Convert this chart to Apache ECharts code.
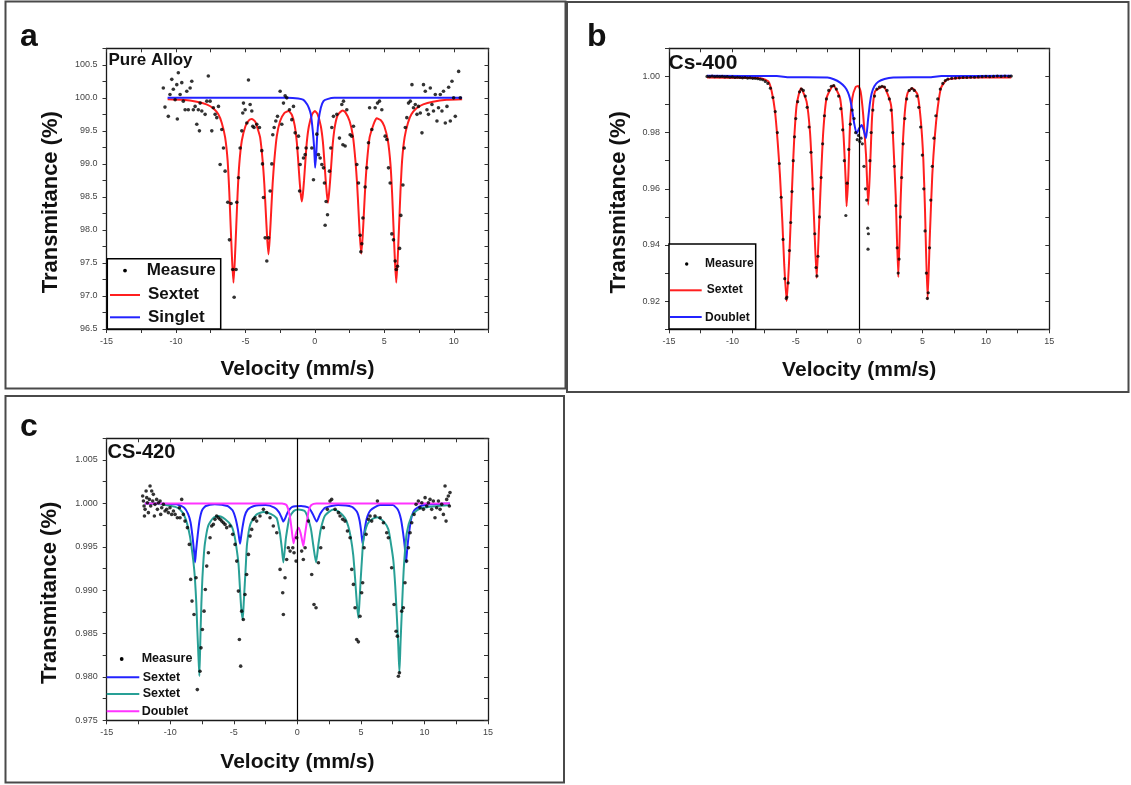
<!DOCTYPE html>
<html><head><meta charset="utf-8">
<script src="https://cdn.jsdelivr.net/npm/echarts@6/dist/echarts.min.js"></script>
<style>html,body{margin:0;padding:0;background:#fff}#c{width:1131px;height:785px}</style>
</head><body><div id="c"></div>
<script>
// ---------------- Panel a : Pure Alloy ----------------
const aMeasure = [[-10.91,100.15],[-10.79,99.86],[-10.55,99.72],[-10.43,100.05],[-10.30,100.28],[-10.19,100.13],[-10.06,99.97],[-9.94,100.20],[-9.90,99.68],[-9.83,100.38],[-9.70,100.05],[-9.58,100.23],[-9.47,99.95],[-9.34,99.82],[-9.22,100.10],[-9.11,99.82],[-8.98,100.15],[-8.86,100.25],[-8.75,99.82],[-8.62,99.87],[-8.50,99.60],[-8.39,99.82],[-8.31,99.50],[-8.26,99.92],[-8.14,99.80],[-7.90,99.75],[-7.78,99.95],[-7.67,100.33],[-7.54,99.95],[-7.42,99.50],[-7.31,99.85],[-7.18,99.75],[-7.06,99.70],[-6.94,99.87],[-6.82,98.99],[-6.70,99.52],[-6.58,99.24],[-6.46,98.89],[-6.27,98.42],[-6.15,97.85],[-6.03,98.40],[-5.91,97.40],[-5.81,96.98],[-5.67,97.40],[-5.62,98.42],[-5.50,98.79],[-5.38,99.24],[-5.26,99.50],[-5.19,99.77],[-5.14,99.92],[-5.02,99.82],[-4.90,99.62],[-4.78,100.27],[-4.66,99.90],[-4.54,99.80],[-4.47,99.57],[-4.38,99.55],[-4.18,99.60],[-3.99,99.55],[-3.82,99.20],[-3.77,99.00],[-3.70,98.49],[-3.58,97.88],[-3.46,97.53],[-3.34,97.88],[-3.22,98.59],[-3.10,99.00],[-3.03,99.44],[-2.93,99.55],[-2.81,99.65],[-2.69,99.72],[-2.50,100.10],[-2.38,99.60],[-2.26,99.92],[-2.14,100.03],[-2.02,100.00],[-1.83,99.82],[-1.66,99.67],[-1.54,99.87],[-1.42,99.47],[-1.25,99.24],[-1.18,99.42],[-1.10,98.59],[-1.06,98.99],[-0.82,99.09],[-0.70,99.14],[-0.63,99.24],[-0.22,99.24],[-0.10,98.76],[0.14,99.45],[0.26,99.14],[0.38,99.09],[0.50,98.99],[0.62,98.94],[0.69,98.71],[0.74,98.07],[0.81,98.43],[0.91,98.23],[1.05,98.89],[1.15,99.24],[1.22,99.55],[1.34,99.72],[1.58,99.75],[1.77,99.39],[1.94,99.90],[2.02,99.29],[2.06,99.95],[2.18,99.27],[2.30,99.82],[2.54,99.44],[2.66,99.42],[2.78,99.57],[3.02,98.99],[3.14,98.71],[3.26,97.92],[3.31,97.67],[3.38,97.79],[3.46,98.18],[3.62,98.65],[3.74,98.94],[3.86,99.32],[3.94,99.85],[4.10,99.52],[4.34,99.85],[4.51,99.92],[4.65,99.95],[4.82,99.82],[5.06,99.42],[5.18,99.37],[5.30,98.94],[5.42,98.71],[5.54,97.94],[5.66,97.85],[5.78,97.53],[5.86,97.40],[5.95,97.45],[6.10,97.72],[6.19,98.22],[6.34,98.68],[6.43,99.24],[6.51,99.55],[6.62,99.70],[6.74,99.92],[6.87,99.95],[6.99,100.20],[7.10,99.85],[7.23,99.90],[7.35,99.75],[7.46,99.87],[7.59,99.77],[7.71,99.47],[7.82,100.20],[7.95,100.10],[8.07,99.82],[8.18,99.75],[8.31,100.15],[8.43,99.90],[8.54,99.80],[8.67,100.05],[8.79,99.65],[8.90,99.85],[9.03,100.05],[9.15,99.80],[9.26,100.10],[9.39,99.62],[9.51,99.87],[9.63,100.16],[9.75,99.65],[9.87,100.25],[9.99,100.0],[10.11,99.72],[10.35,100.40],[10.47,100.0]];
const aSextet = [[-10.6,99.98],[-9.5,99.97],[-8.5,99.94],[-7.8,99.90],[-7.3,99.84],[-6.95,99.75],[-6.7,99.62],[-6.46,99.40],[-6.28,99.05],[-6.16,98.57],[-6.06,98.05],[-5.96,97.55],[-5.86,97.20],[-5.76,97.55],[-5.66,98.05],[-5.56,98.56],[-5.44,99.00],[-5.26,99.35],[-5.0,99.57],[-4.75,99.66],[-4.54,99.68],[-4.3,99.64],[-4.1,99.52],[-3.94,99.40],[-3.76,99.05],[-3.64,98.70],[-3.54,98.30],[-3.44,97.90],[-3.34,97.63],[-3.24,97.90],[-3.14,98.30],[-3.04,98.70],[-2.92,99.05],[-2.74,99.42],[-2.5,99.65],[-2.2,99.77],[-1.9,99.80],[-1.65,99.74],[-1.45,99.58],[-1.3,99.33],[-1.2,99.05],[-1.1,98.75],[-1.02,98.55],[-0.94,98.43],[-0.86,98.55],[-0.78,98.75],[-0.68,99.05],[-0.58,99.33],[-0.43,99.57],[-0.2,99.75],[0.0,99.80],[0.2,99.75],[0.43,99.57],[0.58,99.33],[0.68,99.05],[0.78,98.75],[0.86,98.55],[0.94,98.41],[1.02,98.55],[1.1,98.75],[1.2,99.05],[1.3,99.33],[1.45,99.58],[1.65,99.74],[2.0,99.81],[2.2,99.78],[2.5,99.65],[2.74,99.42],[2.92,99.05],[3.04,98.70],[3.14,98.30],[3.24,97.90],[3.34,97.64],[3.44,97.90],[3.54,98.30],[3.64,98.70],[3.76,99.05],[3.94,99.40],[4.1,99.52],[4.3,99.64],[4.45,99.69],[4.75,99.66],[5.0,99.57],[5.26,99.35],[5.44,99.00],[5.56,98.56],[5.66,98.05],[5.76,97.55],[5.86,97.20],[5.96,97.55],[6.06,98.05],[6.16,98.57],[6.28,99.05],[6.46,99.40],[6.7,99.62],[6.95,99.75],[7.3,99.84],[7.8,99.90],[8.5,99.94],[9.5,99.97],[10.6,99.98]];
const aSinglet = [[-10.6,100.0],[-2.0,100.0],[-1.2,99.99],[-0.82,99.97],[-0.55,99.90],[-0.42,99.84],[-0.29,99.75],[-0.15,99.50],[-0.05,99.24],[0.02,98.94],[0.10,99.15],[0.16,99.40],[0.26,99.65],[0.43,99.85],[0.62,99.95],[0.9,99.98],[1.4,100.0],[10.6,100.0]];

// ---------------- Panel b : Cs-400 ----------------
const bMeasure = [[-12.0,1.0000],[-11.8,0.9999],[-11.6,1.0001],[-11.4,0.9999],[-11.2,1.0000],[-11.0,0.9999],[-10.8,1.0000],[-10.6,0.9998],[-10.4,0.9999],[-10.2,0.9997],[-10.0,0.9998],[-9.8,0.9996],[-9.6,0.9997],[-9.4,0.9996],[-9.2,0.9995],[-9.0,0.9996],[-8.8,0.9994],[-8.6,0.9995],[-8.4,0.9993],[-8.2,0.9993],[-8.0,0.9992],[-7.8,0.9990],[-7.6,0.9988],[-7.4,0.9982],[-7.2,0.9975],[-7.0,0.9958],[-6.8,0.9925],[-6.62,0.9875],[-6.45,0.9800],[-6.3,0.9690],[-6.15,0.9570],[-6.0,0.9420],[-5.87,0.9280],[-5.75,0.9210],[-5.7,0.9215],[-5.6,0.9265],[-5.5,0.9380],[-5.4,0.9480],[-5.3,0.9590],[-5.2,0.9700],[-5.1,0.9785],[-5.0,0.9850],[-4.85,0.9910],[-4.7,0.9945],[-4.55,0.9955],[-4.4,0.9950],[-4.25,0.9930],[-4.1,0.9890],[-3.95,0.9820],[-3.8,0.9730],[-3.65,0.9600],[-3.5,0.9440],[-3.4,0.9320],[-3.33,0.9290],[-3.25,0.9360],[-3.13,0.9500],[-3.0,0.9640],[-2.88,0.9760],[-2.74,0.9860],[-2.58,0.9920],[-2.4,0.9950],[-2.2,0.9965],[-2.0,0.9967],[-1.8,0.9955],[-1.62,0.9930],[-1.45,0.9885],[-1.3,0.9810],[-1.17,0.9700],[-1.05,0.9505],[-0.95,0.9620],[-0.82,0.9740],[-0.7,0.9830],[-0.55,0.9880],[-0.4,0.9850],[-0.28,0.9800],[-0.15,0.9775],[-0.05,0.9790],[0.05,0.9768],[0.15,0.9780],[0.25,0.9760],[0.38,0.9680],[0.5,0.9600],[0.6,0.9560],[0.68,0.9460],[0.73,0.9440],[0.7,0.9385],[0.85,0.9700],[0.95,0.9800],[1.08,0.9880],[1.22,0.9930],[1.4,0.9955],[1.6,0.9962],[1.8,0.9965],[2.0,0.9962],[2.2,0.9950],[2.38,0.9920],[2.52,0.9880],[2.65,0.9800],[2.78,0.9680],[2.9,0.9540],[3.0,0.9390],[3.08,0.9300],[3.15,0.9350],[3.25,0.9500],[3.35,0.9640],[3.47,0.9760],[3.6,0.9850],[3.75,0.9920],[3.95,0.9950],[4.15,0.9957],[4.35,0.9950],[4.55,0.9930],[4.7,0.9890],[4.85,0.9820],[4.98,0.9720],[5.1,0.9600],[5.2,0.9450],[5.3,0.9300],[5.38,0.9210],[5.45,0.9230],[5.55,0.9390],[5.65,0.9560],[5.77,0.9680],[5.9,0.9780],[6.05,0.9860],[6.2,0.9920],[6.4,0.9955],[6.6,0.9975],[6.8,0.9985],[7.0,0.9990],[7.3,0.9993],[7.6,0.9994],[7.9,0.9995],[8.2,0.9996],[8.5,0.9996],[8.8,0.9997],[9.1,0.9997],[9.4,0.9998],[9.7,0.9999],[10.0,1.0000],[10.3,0.9999],[10.6,1.0000],[10.9,1.0001],[11.2,1.0000],[11.5,1.0001],[11.8,1.0000],[12.0,1.0001]];
const bSextet = [[-12,0.9996],[-9,0.9995],[-7.69,0.9993],[-7.16,0.9982],[-6.9,0.9947],[-6.64,0.9876],[-6.43,0.9769],[-6.25,0.9650],[-6.06,0.9484],[-5.91,0.9330],[-5.72,0.9200],[-5.54,0.9330],[-5.38,0.9508],[-5.25,0.9650],[-5.12,0.9780],[-4.93,0.9899],[-4.59,0.9958],[-4.15,0.9911],[-3.88,0.9804],[-3.70,0.9650],[-3.54,0.9472],[-3.35,0.9283],[-3.17,0.9460],[-3.01,0.9638],[-2.83,0.9804],[-2.57,0.9923],[-2.04,0.9968],[-1.51,0.9923],[-1.25,0.9804],[-1.06,0.9627],[-0.99,0.9538],[-0.85,0.9650],[-0.72,0.9828],[-0.54,0.9923],[-0.28,0.9962],[-0.07,0.9966],[0.12,0.9945],[0.32,0.9863],[0.54,0.9721],[0.72,0.9543],[0.90,0.9721],[1.03,0.9863],[1.25,0.9947],[1.90,0.9964],[2.51,0.9899],[2.69,0.9769],[2.88,0.9579],[3.09,0.9285],[3.27,0.9556],[3.43,0.9745],[3.61,0.9876],[3.82,0.9941],[4.19,0.9958],[4.61,0.9935],[4.87,0.9840],[5.06,0.9707],[5.19,0.9532],[5.40,0.9206],[5.58,0.9437],[5.77,0.9650],[5.98,0.9792],[6.19,0.9886],[6.45,0.9958],[6.90,0.9988],[7.56,0.9993],[8.87,0.9996],[12,0.9996]];
const bDoublet = [[-12,1.0002],[-6.5,1.0001],[-5.5,0.9997],[-2.5,0.9996],[-2.0,0.9990],[-1.5,0.9978],[-1.12,0.9962],[-0.9,0.9945],[-0.73,0.9922],[-0.55,0.9880],[-0.4,0.9835],[-0.2,0.9797],[0.0,0.9815],[0.2,0.9827],[0.35,0.9810],[0.54,0.9780],[0.7,0.9845],[0.85,0.9905],[0.99,0.9940],[1.2,0.9965],[1.51,0.9981],[2.0,0.9991],[2.69,0.9996],[5.5,0.9997],[6.5,1.0001],[12,1.0002]];

// ---------------- Panel c : CS-420 ----------------
const cMeasure = [[-12.17,1.00085],[-12.11,1.00027],[-12.06,0.99970],[-11.98,0.99931],[-12.03,0.99854],[-11.90,1.00143],[-11.85,1.00066],[-11.80,1.00008],[-11.72,0.99893],[-11.64,1.00046],[-11.59,1.00200],[-11.54,0.99970],[-11.46,1.00143],[-11.38,1.00027],[-11.33,1.00104],[-11.25,0.99854],[-11.20,0.99989],[-11.07,1.00046],[-11.01,0.99931],[-10.93,1.00008],[-10.80,1.00027],[-10.75,0.99873],[-10.67,0.99950],[-10.54,0.99989],[-10.41,0.99912],[-10.28,0.99931],[-10.15,0.99893],[-10.02,0.99950],[-9.89,0.99873],[-9.75,0.99912],[-9.62,0.99873],[-9.44,0.99835],[-9.28,0.99950],[-9.23,0.99835],[-9.10,1.00046],[-8.97,0.99873],[-8.84,0.99796],[-8.65,0.99720],[-8.50,0.99527],[-8.39,0.99124],[-8.29,0.98874],[-8.13,0.98720],[-7.97,0.99143],[-7.87,0.97854],[-7.66,0.98066],[-7.58,0.98335],[-7.47,0.98547],[-7.34,0.98758],[-7.24,0.99008],[-7.13,0.99277],[-7.00,0.99431],[-6.87,0.99604],[-6.74,0.99739],[-6.61,0.99758],[-6.48,0.99816],[-6.35,0.99854],[-6.21,0.99835],[-6.08,0.99816],[-5.95,0.99796],[-5.82,0.99777],[-5.69,0.99758],[-5.56,0.99720],[-5.30,0.99739],[-5.09,0.99643],[-4.90,0.99527],[-4.77,0.99335],[-4.64,0.98989],[-4.56,0.98431],[-4.46,0.98124],[-4.38,0.98758],[-4.25,0.98662],[-4.12,0.98950],[-3.99,0.99181],[-3.85,0.99412],[-3.72,0.99623],[-3.59,0.99700],[-3.46,0.99816],[-3.33,0.99835],[-3.20,0.99796],[-2.94,0.99854],[-2.67,0.99931],[-2.41,0.99893],[-2.15,0.99835],[-1.89,0.99739],[-1.62,0.99662],[-1.36,0.99239],[-1.15,0.98970],[-1.10,0.98720],[-0.97,0.99143],[-0.84,0.99354],[-0.71,0.99489],[-0.57,0.99450],[-0.36,0.99489],[-0.26,0.99431],[-0.10,0.99335],[-0.05,0.99604],[0.34,0.99450],[0.47,0.99354],[0.61,0.99489],[0.87,0.99796],[1.13,0.99181],[1.31,0.98835],[1.47,0.98797],[1.66,0.99316],[1.84,0.99489],[2.05,0.99720],[2.36,0.99931],[2.57,1.00027],[2.70,1.00046],[2.97,0.99931],[3.23,0.99893],[3.36,0.99854],[3.57,0.99816],[3.75,0.99796],[3.94,0.99681],[4.15,0.99604],[4.28,0.99239],[4.41,0.99066],[4.54,0.98797],[4.67,0.98431],[4.80,0.98404],[4.93,0.98700],[5.06,0.98970],[5.14,0.99085],[5.25,0.99489],[5.41,0.99643],[5.59,0.99816],[5.72,0.99854],[5.85,0.99796],[6.11,0.99854],[6.30,1.00027],[6.51,0.99835],[6.77,0.99777],[7.03,0.99662],[7.16,0.99604],[7.42,0.99258],[7.61,0.98835],[7.77,0.98527],[7.87,0.98470],[7.95,0.98008],[8.03,0.98047],[8.21,0.98758],[8.34,0.98797],[8.47,0.99085],[8.60,0.99335],[8.74,0.99489],[8.87,0.99662],[9.00,0.99777],[9.18,0.99873],[9.34,0.99989],[9.52,1.00027],[9.65,0.99950],[9.79,1.00008],[9.92,0.99931],[10.05,1.00066],[10.18,0.99970],[10.31,1.00008],[10.44,1.00046],[10.57,0.99931],[10.70,1.00027],[10.83,0.99835],[10.96,0.99950],[11.10,1.00027],[11.23,0.99931],[11.36,0.99989],[11.49,0.99873],[11.62,1.00200],[11.70,0.99796],[11.75,1.00046],[11.88,1.00085],[11.96,0.99970],[12.01,1.00124]];
const cSextetBlue = [[-12,1.0],[-9.5,0.9999],[-8.9,0.9995],[-8.6,0.9988],[-8.4,0.9978],[-8.25,0.9962],[-8.13,0.9945],[-8.05,0.9932],[-7.97,0.9945],[-7.85,0.9962],[-7.7,0.9980],[-7.5,0.9992],[-7.2,0.9997],[-6.5,0.9999],[-5.5,0.9997],[-5.1,0.9992],[-4.85,0.9982],[-4.68,0.9970],[-4.58,0.9960],[-4.51,0.99535],[-4.44,0.9960],[-4.32,0.9972],[-4.15,0.9985],[-3.9,0.9993],[-3.4,0.9997],[-2.5,0.9998],[-1.8,0.9995],[-1.45,0.9990],[-1.25,0.9984],[-1.1,0.9979],[-0.95,0.9983],[-0.75,0.9990],[-0.4,0.9996],[0.3,0.9997],[0.9,0.9995],[1.2,0.9988],[1.52,0.9979],[1.8,0.9988],[2.2,0.9995],[3.2,0.9998],[4.3,0.9996],[4.7,0.9990],[4.9,0.9980],[5.02,0.9968],[5.14,0.9953],[5.26,0.9966],[5.45,0.9982],[5.75,0.9992],[6.5,0.9998],[7.5,0.9998],[7.9,0.9993],[8.15,0.9982],[8.32,0.9966],[8.45,0.9950],[8.55,0.9932],[8.65,0.9948],[8.78,0.9965],[8.95,0.9982],[9.2,0.9992],[9.7,0.9997],[10.5,0.9999],[12,1.0]];
const cSextetTeal = [[-11.85,1.0],[-10.5,0.99985],[-9.6,0.9996],[-9.23,0.9993],[-8.9,0.9986],[-8.66,0.9976],[-8.45,0.9962],[-8.32,0.9949],[-8.18,0.9933],[-8.06,0.9914],[-7.95,0.9885],[-7.88,0.9858],[-7.8,0.9830],[-7.71,0.9801],[-7.62,0.9850],[-7.55,0.9885],[-7.47,0.9914],[-7.38,0.9936],[-7.28,0.9953],[-7.02,0.9974],[-6.63,0.9983],[-6.21,0.99855],[-5.7,0.9982],[-5.18,0.9974],[-4.95,0.9963],[-4.79,0.9949],[-4.63,0.9930],[-4.53,0.9906],[-4.42,0.9880],[-4.30,0.9866],[-4.22,0.9885],[-4.14,0.9906],[-4.05,0.9930],[-3.96,0.9953],[-3.70,0.9976],[-3.23,0.9987],[-2.67,0.9990],[-2.1,0.9988],[-1.63,0.9983],[-1.45,0.9972],[-1.36,0.9965],[-1.22,0.9948],[-1.10,0.9932],[-0.98,0.9948],[-0.89,0.9961],[-0.63,0.9983],[-0.3,0.9991],[0.08,0.9993],[0.6,0.9991],[1.05,0.9972],[1.25,0.9952],[1.47,0.9932],[1.65,0.9952],[1.84,0.9970],[2.18,0.9986],[2.83,0.9993],[3.3,0.9990],[3.75,0.9983],[4.0,0.9974],[4.20,0.9961],[4.4,0.9940],[4.54,0.9914],[4.68,0.9885],[4.80,0.9868],[4.90,0.9890],[4.99,0.9914],[5.09,0.9937],[5.19,0.9957],[5.51,0.9976],[5.9,0.9982],[6.29,0.9984],[6.8,0.9979],[7.16,0.9970],[7.4,0.9950],[7.56,0.9933],[7.7,0.9905],[7.82,0.9872],[7.93,0.9840],[8.03,0.9805],[8.12,0.9840],[8.21,0.9872],[8.30,0.9903],[8.39,0.9929],[8.60,0.9965],[8.99,0.99855],[9.4,0.9992],[9.91,0.9995],[12.0,0.9998]];
const cDoublet = [[-12,1.0],[-1.2,1.0],[-0.85,0.9998],[-0.6,0.9986],[-0.45,0.9970],[-0.3,0.9954],[-0.2,0.9960],[-0.05,0.9968],[0.1,0.9972],[0.25,0.9966],[0.38,0.9957],[0.47,0.9951],[0.58,0.9962],[0.74,0.9978],[0.9,0.9992],[1.1,0.9998],[1.5,1.0],[12,1.0]];

// ---------------- axis ranges & tick labels ----------------
const xRange = [[-15, 12.5], [-15, 15], [-15, 15]];
const xTickStep = 2.5, xLabelStep = 5;
const yRange = [[96.5, 100.75], [0.91, 1.01], [0.975, 1.0075]];
const yTickStep = [0.25, 0.01, 0.0025];
const yLabelStep = [0.5, 0.02, 0.005];
const yLabelDecimals = [1, 2, 3];
const panelLetters = ['a', 'b', 'c'];
const sampleNames = ['Pure Alloy', 'Cs-400', 'CS-420'];
const xTitle = 'Velocity (mm/s)';
const yTitle = 'Transmitance (%)';

const RED = '#ff1f1f', BLUE = '#2323ff', TEAL = '#28a096', MAG = '#ff33ff';
const FONT = '"Liberation Sans", Arial, sans-serif';

const grids = [
  {left: 106.5, top: 48.3, width: 382, height: 280.7},
  {left: 669, top: 48.3, width: 380.3, height: 281},
  {left: 106.7, top: 438.3, width: 381.3, height: 282}
];
const yNameGap = [45, 39, 45.5];

function isMult(v, step) { const r = v / step; return Math.abs(r - Math.round(r)) < 1e-6; }

const xAxes = [], yAxes = [];
for (let i = 0; i < 3; i++) {
  const axLine = {show: true, onZero: false, lineStyle: {color: '#1a1a1a', width: 1.3}};
  const base = {type: 'value', gridIndex: i, min: xRange[i][0], max: xRange[i][1], interval: xTickStep,
    splitLine: {show: false}, axisLine: axLine};
  xAxes.push(Object.assign({}, base, {
    position: 'bottom',
    axisTick: {show: true, inside: false, length: 4, lineStyle: {color: '#333', width: 1}},
    axisLabel: {fontSize: 9, color: '#444', fontFamily: FONT, margin: 8,
      formatter: v => isMult(v, xLabelStep) ? String(Math.round(v)) : ''},
    name: xTitle, nameLocation: 'middle', nameGap: i === 2 ? 31 : 30, nameMoveOverlap: false,
    nameTextStyle: {fontSize: 21, fontWeight: 'bold', fontFamily: FONT, color: '#111'}
  }));
  xAxes.push(Object.assign({}, base, {
    position: 'top',
    axisTick: {show: true, inside: true, length: 4, lineStyle: {color: '#333', width: 1}},
    axisLabel: {show: false}
  }));
  const ybase = {type: 'value', gridIndex: i, min: yRange[i][0], max: yRange[i][1], interval: yTickStep[i],
    splitLine: {show: false}, axisLine: axLine, scale: true};
  yAxes.push(Object.assign({}, ybase, {
    position: 'left',
    axisTick: {show: true, inside: false, length: 4, lineStyle: {color: '#333', width: 1}},
    axisLabel: {fontSize: 9, color: '#444', fontFamily: FONT, margin: 9,
      formatter: v => isMult(v, yLabelStep[i]) ? v.toFixed(yLabelDecimals[i]) : ''},
    name: yTitle, nameLocation: 'middle', nameGap: yNameGap[i], nameMoveOverlap: false,
    nameTextStyle: {fontSize: 22, fontWeight: 'bold', fontFamily: FONT, color: '#111', padding: [0, 27, 0, 0]}
  }));
  yAxes.push(Object.assign({}, ybase, {
    position: 'right',
    axisTick: {show: true, inside: true, length: 4, lineStyle: {color: '#333', width: 1}},
    axisLabel: {show: false}
  }));
}

function scatter(name, data, i, size) {
  return {name, type: 'scatter', data, xAxisIndex: 2 * i, yAxisIndex: 2 * i, symbol: 'circle',
    symbolSize: size, itemStyle: {color: '#000'}, z: 5, silent: true};
}
function curve(name, data, i, color, width, extra) {
  return Object.assign({name, type: 'line', data, xAxisIndex: 2 * i, yAxisIndex: 2 * i, showSymbol: false,
    symbol: 'none', smooth: 0.2, lineStyle: {color, width}, itemStyle: {color}, z: 3, silent: true}, extra || {});
}
const zeroLine = {markLine: {silent: true, symbol: ['none', 'none'], label: {show: false},
  lineStyle: {color: '#000', width: 1.2, type: 'solid'}, data: [{xAxis: 0}]}};

const series = [
  curve('Sextet', aSextet, 0, RED, 2),
  curve('Singlet', aSinglet, 0, BLUE, 2),
  scatter('Measure', aMeasure, 0, 3.6),
  curve('Sextet', bSextet, 1, RED, 2, zeroLine),
  curve('Doublet', bDoublet, 1, BLUE, 2),
  scatter('Measure', bMeasure, 1, 3.2),
  curve('Sextet (1)', cSextetBlue, 2, BLUE, 2, zeroLine),
  curve('Sextet (2)', cSextetTeal, 2, TEAL, 2),
  curve('Doublet', cDoublet, 2, MAG, 2),
  scatter('Measure', cMeasure, 2, 3.6)
];

// ----- graphic decorations: frames, panel letters, sample names, legends -----
const g = [];
function rect(x, y, w, h, stroke, lw, fill) {
  g.push({type: 'rect', shape: {x, y, width: w, height: h}, style: {fill: fill || 'none', stroke, lineWidth: lw}, z: 100, silent: true});
}
function txt(s, x, y, size, extra) {
  g.push({type: 'text', x, y, style: Object.assign({text: s, fill: '#111', font: 'bold ' + size + 'px ' + FONT,
    textVerticalAlign: 'middle', verticalAlign: 'middle', textAlign: 'left', align: 'left'}, extra || {}), z: 101, silent: true});
}
function hline(x1, x2, y, color, w) {
  g.push({type: 'line', shape: {x1, y1: y, x2, y2: y}, style: {stroke: color, lineWidth: w}, z: 101, silent: true});
}
function dot(x, y, r) {
  g.push({type: 'circle', shape: {cx: x, cy: y, r}, style: {fill: '#000'}, z: 101, silent: true});
}
rect(5.5, 1.5, 560, 387, '#4a4a4a', 2);
rect(567, 2, 561.5, 390, '#4a4a4a', 2);
rect(5.5, 396, 558.5, 386.5, '#4a4a4a', 2);
txt(panelLetters[0], 20, 37, 32);
txt(panelLetters[1], 587, 37, 32);
txt(panelLetters[2], 20, 427, 32);
txt(sampleNames[0], 108.5, 60, 17);
txt(sampleNames[1], 668.5, 63, 21);
txt(sampleNames[2], 107.5, 452.5, 20);
// legend a
rect(107.3, 258.7, 113.4, 70.3, '#000', 1.5, '#fff');
dot(125, 270.6, 1.9); txt('Measure', 146.7, 270.7, 17);
hline(110, 140, 295, RED, 2); txt('Sextet', 148, 294.7, 17);
hline(110, 140, 317.3, BLUE, 2); txt('Singlet', 148, 317.3, 17);
// legend b
rect(669, 244, 86.7, 85, '#000', 1.5, '#fff');
dot(686.7, 264, 1.7); txt('Measure', 705, 264, 12);
hline(670, 701.7, 290.3, RED, 2); txt('Sextet', 706.7, 289.7, 12);
hline(670, 701.7, 317, BLUE, 2); txt('Doublet', 705, 317.3, 12);
// legend c
dot(121.7, 659, 1.9); txt('Measure', 141.7, 658.7, 12.5);
hline(106.7, 139.3, 677.3, BLUE, 2); txt('Sextet', 142.7, 677.3, 12.5);
hline(106.7, 139.3, 694, TEAL, 2); txt('Sextet', 142.7, 694, 12.5);
hline(106.7, 139.3, 711.3, MAG, 2); txt('Doublet', 141.7, 711.3, 12.5);

const chart = echarts.init(document.getElementById('c'), null, {renderer: 'canvas'});
chart.setOption({
  animation: false,
  backgroundColor: '#fff',
  grid: grids,
  xAxis: xAxes,
  yAxis: yAxes,
  series,
  graphic: g
});
</script></body></html>
